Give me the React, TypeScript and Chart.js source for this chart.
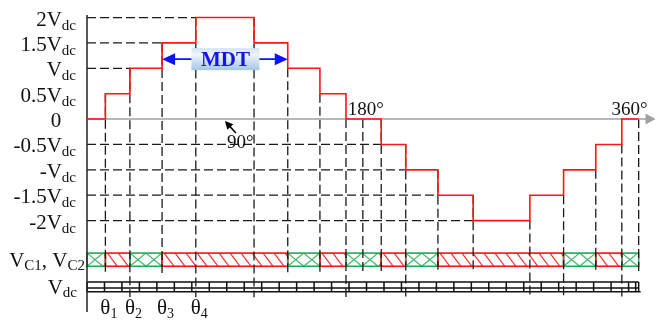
import React, { useEffect, useRef } from "react";
import { Chart, registerables } from "chart.js";
Chart.register(...registerables);

// ---- data ----
const switchAngles = [0, 12, 28, 49, 71, 109, 131, 152, 169, 192, 208, 229, 252, 289, 311, 332, 349, 360];
const levels = [0, 0.5, 1, 1.5, 2, 1.5, 1, 0.5, 0, -0.5, -1, -1.5, -2, -1.5, -1, -0.5, 0];

const yTickValues = [2, 1.5, 1, 0.5, 0, -0.5, -1, -1.5, -2];
const yTickMain = ["2V", "1.5V", "V", "0.5V", "0", "-0.5V", "-V", "-1.5V", "-2V"];
const yTickSub = ["dc", "dc", "dc", "dc", "", "dc", "dc", "dc", "dc"];

const hGridLevels = [2, 1.5, 1, -0.5, -1, -1.5, -2];
const hGridEnds = [71, 49, 28, 192, 208, 229, 252];

const vDashAngles = [12, 28, 49, 71, 109, 131, 152, 169, 180, 192, 208, 229, 252, 289, 311, 332, 349, 360];
const vDashTops = [0.5, 1, 1.5, 2, 2, 1, 0.5, 0, 0, 0, -0.5, -1, -1.5, -2, -1.5, -1, -0.5, 0];
const vDashLong = [false, true, false, true, true, false, false, true, false, false, true, false, false, true, true, false, true, false];

const vcEdges = [0, 12, 28, 49, 131, 152, 169, 192, 208, 229, 311, 332, 349, 360];
const vcModes = ["G", "R", "G", "R", "G", "R", "G", "R", "G", "R", "G", "R", "G"];

const thetaAngles = [12, 28, 49, 71];
const thetaSubs = ["1", "2", "3", "4"];

const angleMarks = [180, 360];
const angleMarkLabels = ["180°", "360°"];

const mdtFrom = 49;
const mdtTo = 131;
const mdtLevel = 1.18;
const quarterAngle = 90;

// ---- layout constants ----
const VC_TOP = -2.64;
const VC_BOT = -2.9;
const VDC_TOP = -3.21;
const VDC_MID = -3.33;
const VDC_BOT = -3.4;
const VDC_CELL = 11.4;
const DASH_SHORT = -3.03;
const DASH_LONG = -3.51;

const SERIF = '"Liberation Serif", "Times New Roman", Times, serif';

function richText(
  ctx: CanvasRenderingContext2D,
  parts: [string, boolean][],
  x: number,
  y: number,
  align: "left" | "right" | "center",
  big: number,
  small: number,
  drop: number
) {
  let total = 0;
  const widths = parts.map(([t, sub]) => {
    ctx.font = `${sub ? small : big}px ${SERIF}`;
    const w = ctx.measureText(t).width;
    total += w;
    return w;
  });
  let cx = align === "right" ? x - total : align === "center" ? x - total / 2 : x;
  ctx.textAlign = "left";
  ctx.textBaseline = "alphabetic";
  parts.forEach(([t, sub], i) => {
    ctx.font = `${sub ? small : big}px ${SERIF}`;
    ctx.fillText(t, cx, sub ? y + drop : y);
    cx += widths[i];
  });
}

const decoPlugin = {
  id: "deco",
  beforeDatasetsDraw(chart: any) {
    const ctx: CanvasRenderingContext2D = chart.ctx;
    const xs = chart.scales.x;
    const ys = chart.scales.y;
    const X = (v: number) => xs.getPixelForValue(v);
    const Y = (v: number) => ys.getPixelForValue(v);
    ctx.save();

    // VC1, VC2 band
    const t = Y(VC_TOP);
    const b = Y(VC_BOT);
    const h = b - t;
    for (let i = 0; i < vcModes.length; i++) {
      const x1 = X(vcEdges[i]);
      const x2 = X(vcEdges[i + 1]);
      ctx.save();
      ctx.beginPath();
      ctx.rect(x1, t, x2 - x1, h);
      ctx.clip();
      ctx.lineWidth = 1.2;
      ctx.setLineDash([]);
      if (vcModes[i] === "R") {
        ctx.strokeStyle = "#ff3030";
        for (let k = x1 - 20; k < x2 + 12; k += 11) {
          ctx.beginPath();
          ctx.moveTo(k, t);
          ctx.lineTo(k + 10, b);
          ctx.stroke();
        }
      } else {
        ctx.strokeStyle = "#3dba6c";
        for (let k = x1 - 16; k < x2 + 16; k += 16) {
          ctx.beginPath();
          ctx.moveTo(k, t);
          ctx.lineTo(k + 16, b);
          ctx.moveTo(k, b);
          ctx.lineTo(k + 16, t);
          ctx.stroke();
        }
      }
      ctx.restore();
      ctx.lineWidth = 1.6;
      ctx.strokeStyle = vcModes[i] === "R" ? "#ff1010" : "#22a855";
      ctx.strokeRect(x1, t, x2 - x1, h);
    }

    // Vdc row
    ctx.strokeStyle = "#111";
    ctx.lineWidth = 1.5;
    const vt = Y(VDC_TOP);
    const vm = Y(VDC_MID);
    const vb = Y(VDC_BOT);
    const vx1 = X(0);
    const vx2 = X(360);
    ctx.beginPath();
    ctx.moveTo(vx1, vt);
    ctx.lineTo(vx2, vt);
    ctx.moveTo(vx1, vm);
    ctx.lineTo(vx2, vm);
    ctx.moveTo(vx1, vb);
    ctx.lineTo(vx2 + 2, vb);
    for (let a = 0; a < 360; a += VDC_CELL) {
      ctx.moveTo(X(a), vt);
      ctx.lineTo(X(a), vb);
    }
    ctx.moveTo(vx2, vt);
    ctx.lineTo(vx2, vb);
    ctx.moveTo(vx2 - 3, vt);
    ctx.lineTo(vx2 - 3, vb);
    ctx.stroke();

    // dashed grid
    ctx.setLineDash([9, 4]);
    ctx.strokeStyle = "#1a1a1a";
    ctx.lineWidth = 1.3;
    hGridLevels.forEach((lv, i) => {
      ctx.beginPath();
      ctx.moveTo(X(0), Y(lv));
      ctx.lineTo(X(hGridEnds[i]), Y(lv));
      ctx.stroke();
    });
    vDashAngles.forEach((a, i) => {
      ctx.beginPath();
      ctx.moveTo(X(a), Y(vDashTops[i]));
      ctx.lineTo(X(a), Y(vDashLong[i] ? DASH_LONG : DASH_SHORT));
      ctx.stroke();
    });
    ctx.setLineDash([]);

    // x axis (gray arrow)
    const y0 = Y(0);
    ctx.strokeStyle = "#a0a0a0";
    ctx.fillStyle = "#a0a0a0";
    ctx.lineWidth = 1.5;
    const tip = X(371);
    ctx.beginPath();
    ctx.moveTo(X(0), y0);
    ctx.lineTo(tip - 8, y0);
    ctx.stroke();
    ctx.beginPath();
    ctx.moveTo(tip, y0);
    ctx.lineTo(tip - 10, y0 - 5.5);
    ctx.lineTo(tip - 10, y0 + 5.5);
    ctx.closePath();
    ctx.fill();

    // y axis
    ctx.strokeStyle = "#222";
    ctx.lineWidth = 1.5;
    ctx.beginPath();
    ctx.moveTo(X(0), chart.chartArea.top);
    ctx.lineTo(X(0), chart.chartArea.bottom - 2);
    ctx.stroke();
    ctx.restore();
  },
  afterDatasetsDraw(chart: any) {
    const ctx: CanvasRenderingContext2D = chart.ctx;
    const xs = chart.scales.x;
    const ys = chart.scales.y;
    const X = (v: number) => xs.getPixelForValue(v);
    const Y = (v: number) => ys.getPixelForValue(v);
    ctx.save();
    ctx.fillStyle = "#111";

    // y tick labels
    yTickValues.forEach((v, i) => {
      const base = Y(v) + 8;
      if (yTickSub[i]) {
        richText(ctx, [[yTickMain[i], false], [yTickSub[i], true]], X(0) - 11, base, "right", 21, 15, 4);
      } else {
        richText(ctx, [[yTickMain[i], false]], X(0) - 31, base, "center", 21, 15, 4);
      }
    });

    // row labels
    const vcMid = (Y(VC_TOP) + Y(VC_BOT)) / 2;
    richText(ctx, [["V", false], ["C1", true], [", V", false], ["C2", true]], X(0) - 2, vcMid + 7.5, "right", 21, 15, 3);
    const vdcMid = (Y(VDC_TOP) + Y(VDC_BOT)) / 2;
    richText(ctx, [["V", false], ["dc", true]], X(0) - 10, vdcMid + 7, "right", 21, 15, 3);

    // theta labels
    const thBase = Y(VDC_BOT) + 22;
    thetaAngles.forEach((a, i) => {
      ctx.font = `21px ${SERIF}`;
      const w = ctx.measureText("θ").width;
      richText(ctx, [["θ", false], [thetaSubs[i], true]], X(a) - w / 2, thBase, "left", 21, 14, 4);
    });

    // angle marks on axis
    richText(ctx, [[angleMarkLabels[0], false]], X(angleMarks[0]) + 3, Y(0) - 4, "center", 19, 13, 0);
    richText(ctx, [[angleMarkLabels[1], false]], X(angleMarks[1]) + 9, Y(0) - 4, "right", 19, 13, 0);

    // 90° annotation
    const tx = X(quarterAngle);
    const ty = Y(0) + 2;
    ctx.strokeStyle = "#000";
    ctx.fillStyle = "#000";
    ctx.lineWidth = 1.6;
    const ang = Math.atan2(12, 11);
    ctx.beginPath();
    ctx.moveTo(tx + 11, ty + 12);
    ctx.lineTo(tx + 3, ty + 3.3);
    ctx.stroke();
    ctx.beginPath();
    ctx.moveTo(tx, ty);
    ctx.lineTo(tx + 8 * Math.cos(ang) - 4 * Math.sin(ang), ty + 8 * Math.sin(ang) + 4 * Math.cos(ang));
    ctx.lineTo(tx + 8 * Math.cos(ang) + 4 * Math.sin(ang), ty + 8 * Math.sin(ang) - 4 * Math.cos(ang));
    ctx.closePath();
    ctx.fill();
    ctx.fillStyle = "#111";
    richText(ctx, [["90°", false]], tx + 2, ty + 27, "left", 19, 13, 0);

    // MDT arrow
    const my = Y(mdtLevel);
    const ax1 = X(mdtFrom);
    const ax2 = X(mdtTo);
    ctx.strokeStyle = "#0a14ff";
    ctx.fillStyle = "#0a14ff";
    ctx.lineWidth = 1.6;
    ctx.beginPath();
    ctx.moveTo(ax1 + 10, my);
    ctx.lineTo(ax2 - 10, my);
    ctx.stroke();
    ctx.beginPath();
    ctx.moveTo(ax1, my);
    ctx.lineTo(ax1 + 13, my - 6);
    ctx.lineTo(ax1 + 13, my + 6);
    ctx.closePath();
    ctx.moveTo(ax2, my);
    ctx.lineTo(ax2 - 13, my - 6);
    ctx.lineTo(ax2 - 13, my + 6);
    ctx.closePath();
    ctx.fill();

    // MDT box
    const bcx = X(quarterAngle) + 0.5;
    const bw = 68;
    const bh = 22;
    const grad = ctx.createLinearGradient(0, my - bh / 2, 0, my + bh / 2);
    grad.addColorStop(0, "#d3e3f4");
    grad.addColorStop(0.3, "#eef5fc");
    grad.addColorStop(1, "#a6c5e6");
    ctx.fillStyle = grad;
    ctx.fillRect(bcx - bw / 2, my - bh / 2, bw, bh);
    ctx.fillStyle = "#1414e6";
    ctx.font = `bold 21px ${SERIF}`;
    ctx.textAlign = "center";
    ctx.textBaseline = "middle";
    ctx.fillText("MDT", bcx, my + 1);

    ctx.restore();
  },
};

export default function App() {
  const ref = useRef<HTMLCanvasElement | null>(null);
  useEffect(() => {
    if (!ref.current) return;
    const pts: { x: number; y: number }[] = [];
    for (let i = 0; i < levels.length; i++) {
      pts.push({ x: switchAngles[i], y: levels[i] });
      pts.push({ x: switchAngles[i + 1], y: levels[i] });
    }
    const chart = new Chart(ref.current, {
      type: "line",
      data: {
        datasets: [
          {
            data: pts,
            borderColor: "#ff1414",
            borderWidth: 1.6,
            pointRadius: 0,
            fill: false,
            tension: 0,
          },
        ],
      },
      options: {
        responsive: false,
        animation: false,
        devicePixelRatio: 1,
        layout: { padding: { left: 87, top: 15, right: 3, bottom: 6 } },
        scales: {
          x: { type: "linear", min: 0, max: 370, display: false },
          y: { type: "linear", min: -3.84, max: 2.05, display: false },
        },
        plugins: { legend: { display: false }, tooltip: { enabled: false } },
      },
      plugins: [decoPlugin],
    } as any);
    let alive = true;
    const fonts: any = (document as any).fonts;
    if (fonts && fonts.load) {
      Promise.all([
        fonts.load(`21px "Liberation Serif"`),
        fonts.load(`bold 21px "Liberation Serif"`),
      ])
        .then(() => {
          if (alive) chart.draw();
        })
        .catch(() => {});
    }
    return () => {
      alive = false;
      chart.destroy();
    };
  }, []);
  return (
    <div style={{ position: "absolute", left: 0, top: 0, width: 657, height: 320, background: "#fff" }}>
      <span style={{ fontFamily: '"Liberation Serif"', position: "absolute", left: -999, top: 0 }}>Vθ</span>
      <span style={{ fontFamily: '"Liberation Serif"', fontWeight: "bold", position: "absolute", left: -999, top: 0 }}>MDT</span>
      <canvas ref={ref} width={657} height={320} style={{ display: "block" }} />
    </div>
  );
}
